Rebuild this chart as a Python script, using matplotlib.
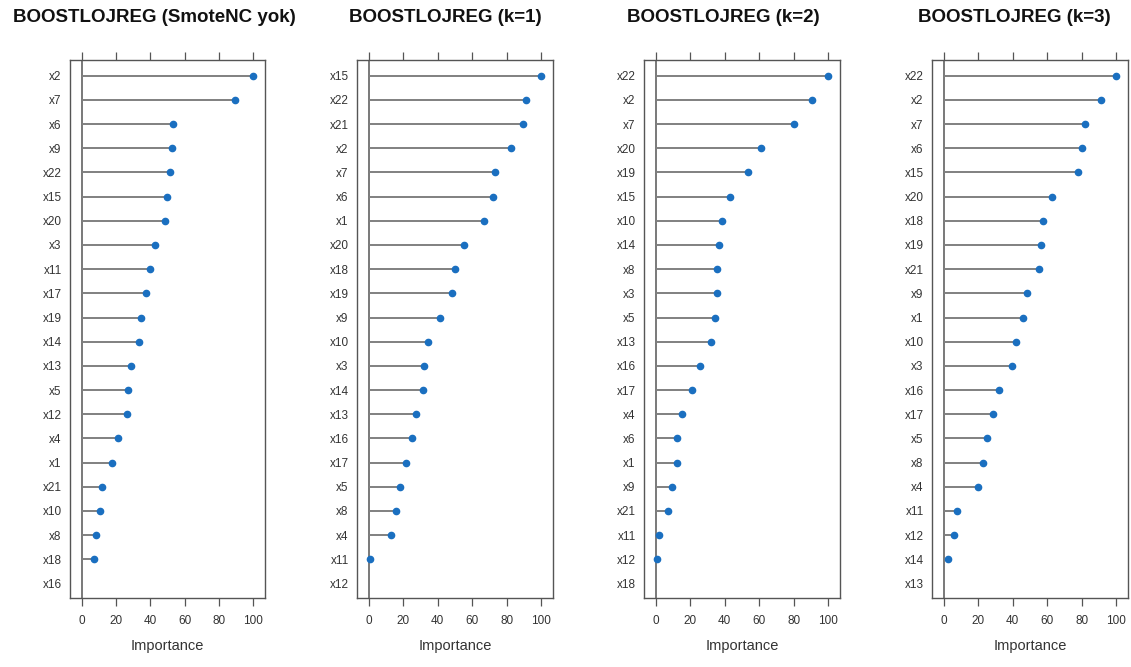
import numpy as np
import matplotlib.pyplot as plt

plt.rcParams['font.family'] = ['Liberation Sans', 'DejaVu Sans']

# Panel titles
titles = ["BOOSTLOJREG (SmoteNC yok)", "BOOSTLOJREG (k=1)",
          "BOOSTLOJREG (k=2)", "BOOSTLOJREG (k=3)"]

# Variables in plotted order (top to bottom) and their importance values
vars_p1 = ["x2", "x7", "x6", "x9", "x22", "x15", "x20", "x3", "x11", "x17", "x19",
           "x14", "x13", "x5", "x12", "x4", "x1", "x21", "x10", "x8", "x18", "x16"]
imp_p1 = [100, 89.3, 53.0, 52.6, 51.5, 49.5, 48.3, 42.9, 39.6, 37.7, 34.4,
          33.4, 28.5, 26.8, 26.4, 21.4, 17.5, 11.7, 10.5, 8.2, 7.0, np.nan]

vars_p2 = ["x15", "x22", "x21", "x2", "x7", "x6", "x1", "x20", "x18", "x19", "x9",
           "x10", "x3", "x14", "x13", "x16", "x17", "x5", "x8", "x4", "x11", "x12"]
imp_p2 = [100, 91.2, 89.7, 82.5, 73.2, 71.8, 66.7, 55.1, 49.8, 48.4, 41.2,
          34.4, 31.9, 31.3, 27.2, 24.9, 21.4, 18.3, 16.0, 12.8, 0.8, np.nan]

vars_p3 = ["x22", "x2", "x7", "x20", "x19", "x15", "x10", "x14", "x8", "x3", "x5",
           "x13", "x16", "x17", "x4", "x6", "x1", "x9", "x21", "x11", "x12", "x18"]
imp_p3 = [100, 90.3, 80.3, 61.0, 53.3, 42.9, 38.6, 36.7, 35.7, 35.7, 34.4,
          32.2, 25.5, 21.0, 15.3, 12.5, 12.5, 9.5, 6.9, 2.1, 1.0, np.nan]

vars_p4 = ["x22", "x2", "x7", "x6", "x15", "x20", "x18", "x19", "x21", "x9", "x1",
           "x10", "x3", "x16", "x17", "x5", "x8", "x4", "x11", "x12", "x14", "x13"]
imp_p4 = [100, 90.9, 81.6, 79.9, 77.6, 62.9, 57.4, 56.1, 55.1, 48.5, 46.2,
          41.8, 39.3, 32.3, 28.4, 25.3, 22.6, 19.9, 7.5, 6.2, 2.7, np.nan]

panels = [(vars_p1, imp_p1), (vars_p2, imp_p2), (vars_p3, imp_p3), (vars_p4, imp_p4)]

W, H = 1131, 667
fig = plt.figure(figsize=(W / 100, H / 100), dpi=100)

# axes boxes in pixels: left, width
boxes = [(70, 195), (357, 196), (644, 196), (932, 196)]
title_x = [154, 445, 723, 1014]
top, bottom = 60, 598

dot_col = '#1a6fc0'
edge_col = '#555555'

for i, (names, vals) in enumerate(panels):
    left, width = boxes[i]
    ax = fig.add_axes([left / W, 1 - bottom / H, width / W, (bottom - top) / H])
    vals = np.array(vals, dtype=float)
    y = np.arange(len(names))[::-1]

    ax.axvline(0, color='#555555', lw=1.1, zorder=1)
    ax.hlines(y, 0, np.nan_to_num(vals), color='#808080', lw=1.4, zorder=2)
    ax.plot(vals, y, 'o', color=dot_col, ms=4.5, mec=dot_col, zorder=3)

    ax.set_xlim(-6.8, 106.8)
    ax.set_ylim(-0.6, len(names) - 0.35)
    ax.set_yticks(y)
    ax.set_yticklabels(names)
    ax.set_xticks(np.arange(0, 101, 20))
    ax.tick_params(axis='y', length=0, pad=6, labelsize=8.5, labelcolor='#333333')
    ax.tick_params(axis='x', direction='out', length=6, width=0.9, color=edge_col,
                   labelsize=8.5, labelcolor='#333333', pad=6,
                   top=True, labeltop=False)
    for s in ax.spines.values():
        s.set_color(edge_col)
        s.set_linewidth(1.0)
    ax.set_xlabel("Importance", fontsize=10.5, color='#333333', labelpad=9)

    fig.text(title_x[i] / W, 1 - 17 / H, titles[i], ha='center', va='center',
             fontsize=13.5, fontweight='bold', color='#111111')

fig.savefig("out.png", dpi=100)
